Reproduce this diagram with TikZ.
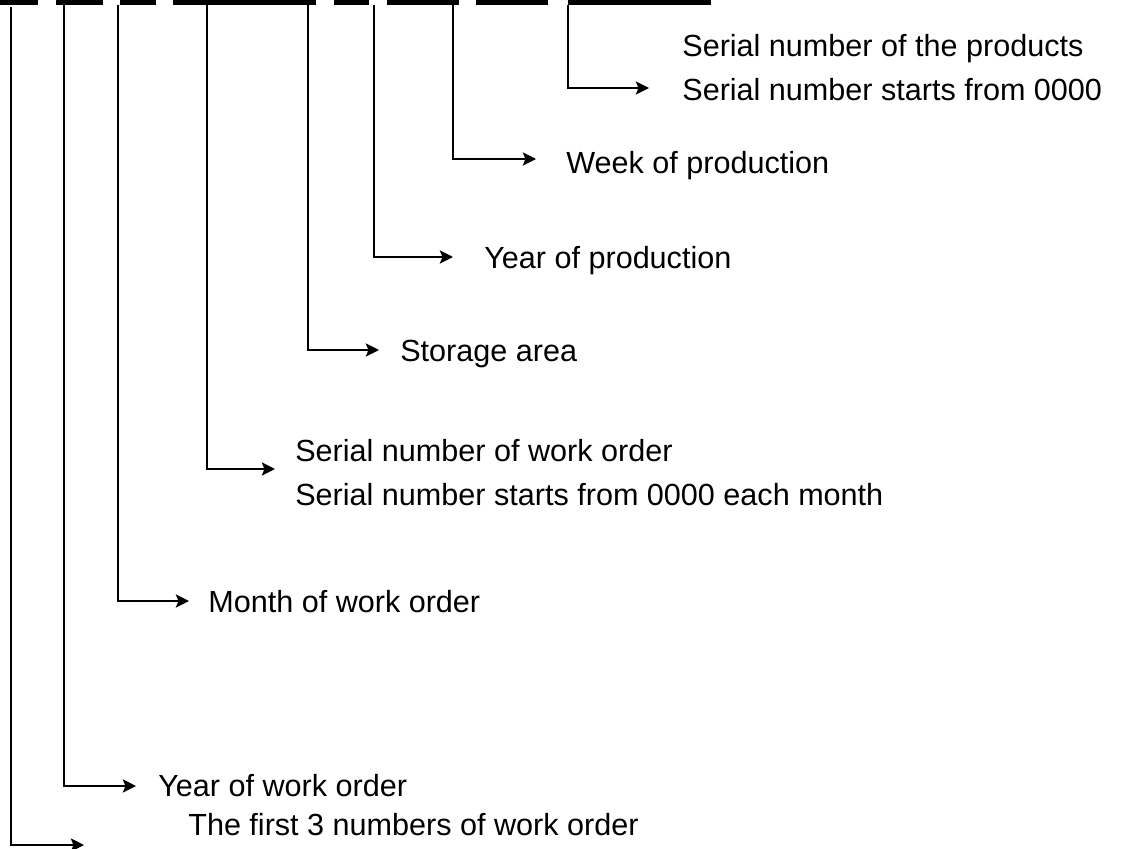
\documentclass[tikz,border=0pt]{standalone}
\usepackage{fontspec}
\setmainfont{Liberation Sans}
\usetikzlibrary{arrows.meta,positioning}

\begin{document}
\begin{tikzpicture}[x=0.02cm,y=-0.02cm,
    font=\fontsize{17.4}{25}\selectfont,
    lbl/.style={anchor=base west,inner sep=0pt,align=left},
    feed/.style={line width=1.1pt,-{Stealth[length=7.5pt,width=7.5pt,inset=1.5pt]}}]
  \useasboundingbox (0,0) rectangle (1128,848);
  % code blanks along the top edge
  \foreach \a/\b in {0/38,56/103,120/156,173/316,334/369,387/459,476/548,568/711}{%
    \fill (\a,0) rectangle (\b,5);}
  % drop points under the blanks
  \coordinate (c1) at (11,7);
  \coordinate (c2) at (64,5);
  \coordinate (c3) at (118,5);
  \coordinate (c4) at (207,5);
  \coordinate (c5) at (308,5);
  \coordinate (c6) at (374,5);
  \coordinate (c7) at (453,5);
  \coordinate (c8) at (568,5);
  % arrow tips
  \coordinate (t1) at (84,845);
  \coordinate (t2) at (136,786);
  \coordinate (t3) at (189,601);
  \coordinate (t4) at (275,469);
  \coordinate (t5) at (379,350);
  \coordinate (t6) at (453,257);
  \coordinate (t7) at (536,159);
  \coordinate (t8) at (649,88);
  % field labels (base = last line)
  \node[lbl] (serial) at (682,100) {Serial number of the products\\Serial number starts from 0000};
  \node[lbl] (week) at (566,173) {Week of production};
  \node[lbl] (pyear) at (484,268) {Year of production};
  \node[lbl] (store) at (400,361) {Storage area};
  \node[lbl] (order) at (295,505) {Serial number of work order\\Serial number starts from 0000 each month};
  \node[lbl] (month) at (208,612) {Month of work order};
  \node[lbl] (oyear) at (158,796) {Year of work order};
  \node[lbl] (first) at (188,835) {The first 3 numbers of work order};
  % leaders
  \foreach \i in {1,...,8}{%
    \draw[feed] (c\i) |- (t\i);}
\end{tikzpicture}
\end{document}
